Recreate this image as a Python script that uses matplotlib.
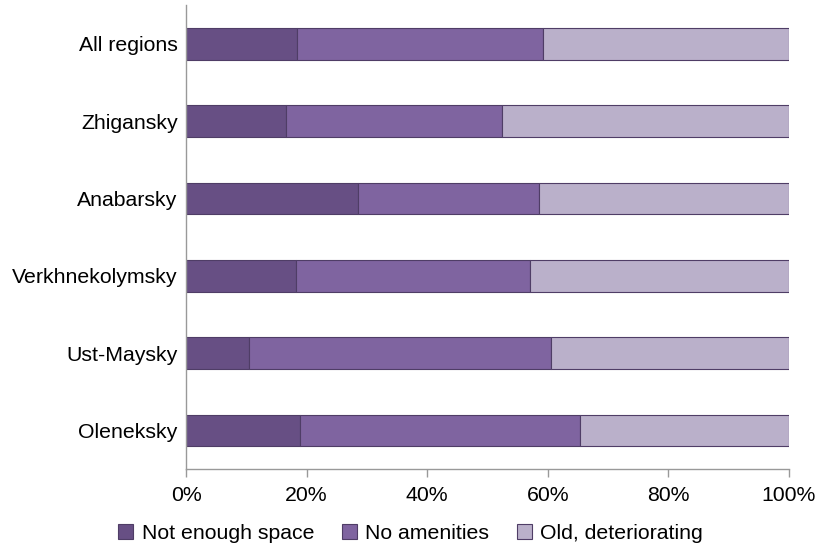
import matplotlib
matplotlib.use("Agg")
import matplotlib.pyplot as plt
import numpy as np

categories = ["All regions", "Zhigansky", "Anabarsky", "Verkhnekolymsky", "Ust-Maysky", "Oleneksky"]
not_enough_space = [18.4, 16.6, 28.5, 18.2, 10.4, 18.9]
no_amenities = [40.8, 35.8, 30.0, 38.8, 50.1, 46.4]
old_deteriorating = [40.8, 47.6, 41.5, 43.0, 39.5, 34.7]
series_names = ["Not enough space", "No amenities", "Old, deteriorating"]
colors = ["#674f84", "#7f64a0", "#bab0ca"]
xticks = [0, 20, 40, 60, 80, 100]

plt.rcParams['font.family'] = ['Liberation Sans', 'DejaVu Sans']

fig = plt.figure(figsize=(8.18, 5.49), dpi=100)
ax = fig.add_axes([0.2274, 0.1457, 0.7372, 0.8450])

y = np.arange(len(categories))[::-1]
left = np.zeros(len(categories))
for vals, name, c in zip([not_enough_space, no_amenities, old_deteriorating], series_names, colors):
    ax.barh(y, vals, left=left, height=0.41, color=c, edgecolor="#4f3d66", linewidth=0.8, label=name)
    left = left + np.array(vals)

ax.set_ylim(-0.5, len(categories) - 0.5)
ax.set_xlim(0, 100)
ax.set_yticks(y)
ax.set_yticklabels(categories, fontsize=15.3)
ax.set_xticks(xticks)
ax.set_xticklabels([f"{t}%" for t in xticks], fontsize=15.3)
ax.tick_params(axis='y', length=0, pad=6)
ax.tick_params(axis='x', length=6, width=1, color="#999999", pad=6)
for s in ["top", "right"]:
    ax.spines[s].set_visible(False)
for s in ["left", "bottom"]:
    ax.spines[s].set_color("#999999")
    ax.spines[s].set_linewidth(1)

leg = fig.legend(loc="center", bbox_to_anchor=(0.502, 0.029), ncol=3, frameon=False,
                 fontsize=15.3, handlelength=0.7, handleheight=0.7, handletextpad=0.4,
                 columnspacing=1.3)

fig.savefig("out.png", dpi=100)
